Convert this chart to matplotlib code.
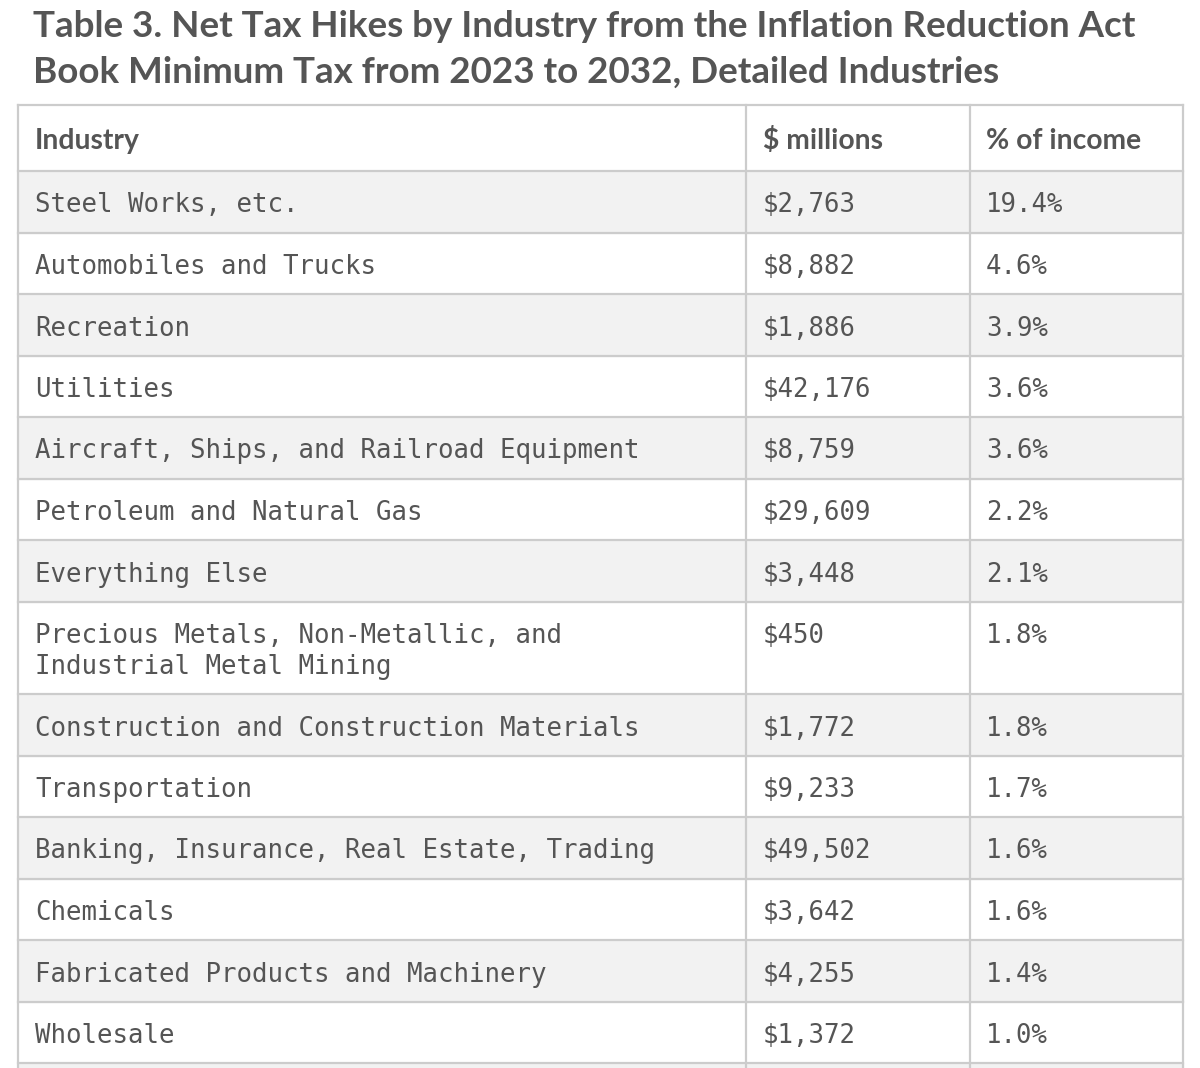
import matplotlib.pyplot as plt

title_lines = ["Table 3. Net Tax Hikes by Industry from the Inflation Reduction Act",
               "Book Minimum Tax from 2023 to 2032, Detailed Industries"]
headers = ["Industry", "$ millions", "% of income"]
industries = ["Steel Works, etc.",
              "Automobiles and Trucks",
              "Recreation",
              "Utilities",
              "Aircraft, Ships, and Railroad Equipment",
              "Petroleum and Natural Gas",
              "Everything Else",
              "Precious Metals, Non-Metallic, and\nIndustrial Metal Mining",
              "Construction and Construction Materials",
              "Transportation",
              "Banking, Insurance, Real Estate, Trading",
              "Chemicals",
              "Fabricated Products and Machinery",
              "Wholesale"]
millions = [2763, 8882, 1886, 42176, 8759, 29609, 3448, 450, 1772, 9233, 49502, 3642, 4255, 1372]
pct_income = [19.4, 4.6, 3.9, 3.6, 3.6, 2.2, 2.1, 1.8, 1.8, 1.7, 1.6, 1.6, 1.4, 1.0]

W, H = 1200, 1068
fig = plt.figure(figsize=(W / 100, H / 100), dpi=100)
ax = fig.add_axes([0, 0, 1, 1])
ax.set_xlim(0, W)
ax.set_ylim(H, 0)
ax.axis("off")

txt = "#555555"
line_c = "#cccccc"
gray = "#f2f2f2"
x_left, x_right = 18, 1183
col_x = [18, 746, 970]
text_x = [35, 763, 986]
mono = "DejaVu Sans Mono"
body_fs = 18.5

# title
ax.text(33, 37, title_lines[0], fontsize=26.5, fontweight="bold", family="Lato",
        color=txt, va="baseline")
ax.text(33, 83, title_lines[1], fontsize=26.5, fontweight="bold", family="Lato",
        color=txt, va="baseline")

# header row
top = 105
hdr_h = 66
for x, h in zip(text_x, headers):
    ax.text(x, top + hdr_h / 2 + 3, h, fontsize=20.3, fontweight="bold", family="Lato",
            color=txt, va="center")
ys = [top, top + hdr_h]

# body rows
y = top + hdr_h
row_h = 61.5
extra = 31
for i, name in enumerate(industries):
    parts = name.split("\n")
    h = row_h + extra * (len(parts) - 1)
    if i % 2 == 0:
        ax.add_patch(plt.Rectangle((x_left, y), x_right - x_left, h, color=gray, zorder=0))
    for k, part in enumerate(parts):
        ax.text(text_x[0], y + 34.5 + extra * k, part, fontsize=body_fs, family=mono,
                color=txt, va="center")
    ax.text(text_x[1], y + 34.5, "${:,}".format(millions[i]), fontsize=body_fs,
            family=mono, color=txt, va="center")
    ax.text(text_x[2], y + 34.5, "{:.1f}%".format(pct_income[i]), fontsize=body_fs,
            family=mono, color=txt, va="center")
    y += h
    ys.append(y)

# next (cut off) row
ax.add_patch(plt.Rectangle((x_left, y), x_right - x_left, H - y + 5, color=gray, zorder=0))

for yy in ys:
    ax.plot([x_left, x_right], [yy, yy], color=line_c, lw=1.6, zorder=2)
for xx in col_x + [x_right]:
    ax.plot([xx, xx], [top, H + 5], color=line_c, lw=1.6, zorder=2)

fig.savefig("out.png", dpi=100, facecolor="white")
